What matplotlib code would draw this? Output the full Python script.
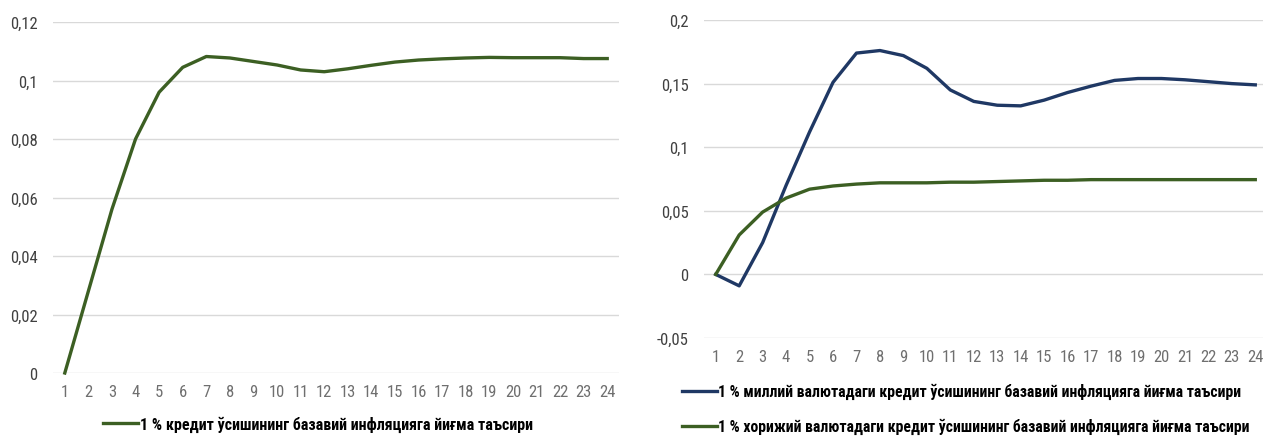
import matplotlib
matplotlib.use("Agg")
import matplotlib.pyplot as plt
from matplotlib import font_manager
from matplotlib.ticker import FuncFormatter

# pick a narrow font if we have one
names = set(f.name for f in font_manager.fontManager.ttflist)
font = "Liberation Sans"
for cand in ["Liberation Sans Narrow", "Arial Narrow", "Roboto Condensed"]:
    if cand in names:
        font = cand
        break
plt.rcParams["font.family"] = [font, "DejaVu Sans"]

periods = list(range(1, 25))

credit_total = [0, 0.028, 0.056, 0.080, 0.096, 0.1045, 0.1082, 0.1077, 0.1065, 0.1053,
                0.1036, 0.1030, 0.1040, 0.1052, 0.1063, 0.1070, 0.1074, 0.1077, 0.1079,
                0.1078, 0.1078, 0.1078, 0.1075, 0.1075]

credit_national = [0, -0.009, 0.025, 0.070, 0.112, 0.151, 0.174, 0.176, 0.172, 0.162,
                   0.145, 0.136, 0.133, 0.1325, 0.137, 0.143, 0.148, 0.1525, 0.154,
                   0.154, 0.153, 0.1515, 0.150, 0.149]

credit_foreign = [0, 0.031, 0.049, 0.060, 0.067, 0.0695, 0.071, 0.072, 0.072, 0.072,
                  0.0725, 0.0725, 0.073, 0.0735, 0.074, 0.074, 0.0745, 0.0745, 0.0745,
                  0.0745, 0.0745, 0.0745, 0.0745, 0.0745]

label_total = "1 % кредит ўсишининг базавий инфляцияга йиғма таъсири"
label_national = "1 % миллий валютадаги кредит ўсишининг базавий инфляцияга йиғма таъсири"
label_foreign = "1 % хорижий валютадаги кредит ўсишининг базавий инфляцияга йиғма таъсири"

green = "#3c5f23"
blue = "#1f3864"
grid_c = "#d9d9d9"

W, H = 1263, 439
fig = plt.figure(figsize=(W / 100, H / 100), dpi=100)


def comma(v, pos):
    s = ("%.2f" % v).rstrip("0").rstrip(".")
    if s == "-0":
        s = "0"
    return s.replace(".", ",")


def style(ax, yticks, ylim):
    ax.set_xlim(0.5, 24.5)
    ax.set_ylim(*ylim)
    ax.set_yticks(yticks)
    ax.set_xticks(periods)
    ax.yaxis.set_major_formatter(FuncFormatter(comma))
    ax.grid(axis="y", color=grid_c, lw=1.0)
    ax.set_axisbelow(True)
    for sp in ax.spines.values():
        sp.set_visible(False)
    ax.tick_params(axis="both", length=0, labelsize=12)
    ax.tick_params(axis="y", pad=11, labelcolor="#404040")
    ax.tick_params(axis="x", pad=8, labelcolor="#6f6f6f")


# left panel
ax1 = fig.add_axes([53 / W, 1 - 374 / H, (619 - 53) / W, (374 - 23) / H])
style(ax1, [0, 0.02, 0.04, 0.06, 0.08, 0.1, 0.12], (0, 0.12))
ax1.plot(periods, credit_total, color=green, lw=2.4, clip_on=False, label=label_total)
ax1.legend(loc="center left", bbox_to_anchor=(103 / W, 1 - 425 / H),
           bbox_transform=fig.transFigure, frameon=False, handlelength=2.2,
           handletextpad=0.1, borderaxespad=0, borderpad=0,
           prop={"weight": "bold", "size": 11.5})

# right panel
ax2 = fig.add_axes([704 / W, 1 - 339 / H, (1267 - 704) / W, (339 - 21) / H])
style(ax2, [-0.05, 0, 0.05, 0.1, 0.15, 0.2], (-0.05, 0.2))
ax2.plot(periods, credit_national, color=blue, lw=2.4, label=label_national)
ax2.plot(periods, credit_foreign, color=green, lw=2.4, label=label_foreign)
ax2.legend(loc="upper left", bbox_to_anchor=(682 / W, 1 - 384 / H),
           bbox_transform=fig.transFigure, frameon=False, handlelength=2.2,
           handletextpad=0.1, borderaxespad=0, borderpad=0, labelspacing=1.2,
           prop={"weight": "bold", "size": 11.3})

fig.savefig("out.png", dpi=100)
